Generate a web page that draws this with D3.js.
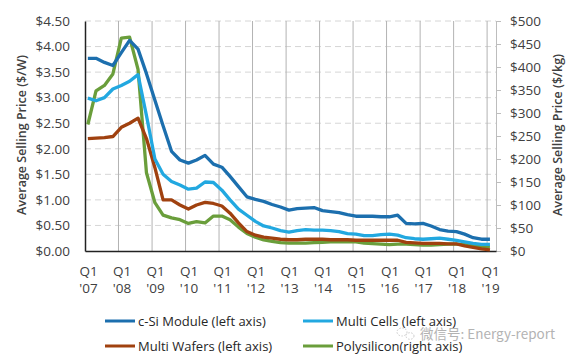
<!DOCTYPE html>
<html>
<head>
<meta charset="utf-8">
<script src="https://cdn.jsdelivr.net/npm/d3@7"></script>
<style>
  body { margin: 0; background: #fff; }
  svg { display: block; font-family: "Open Sans", "Noto Sans", sans-serif; }
</style>
</head>
<body>
<svg id="chart" width="577" height="362"></svg>
<script>
"use strict";

// quarterly points, Q1 '07 .. Q1 '19
var years = ["'07", "'08", "'09", "'10", "'11", "'12", "'13", "'14", "'15", "'16", "'17", "'18", "'19"];

var moduleVals = [3.77, 3.77, 3.69, 3.63, 3.88, 4.12, 3.95, 3.47, 2.95, 2.45, 1.95, 1.78, 1.72,
  1.78, 1.87, 1.70, 1.64, 1.46, 1.26, 1.06, 1.01, 0.97, 0.91, 0.86, 0.80, 0.83, 0.84, 0.85,
  0.79, 0.77, 0.75, 0.71, 0.68, 0.68, 0.68, 0.67, 0.67, 0.70, 0.54, 0.53, 0.54, 0.49, 0.42,
  0.39, 0.38, 0.33, 0.26, 0.23, 0.23];

var cellVals = [2.99, 2.94, 3.00, 3.17, 3.24, 3.32, 3.45, 2.65, 1.80, 1.50, 1.36, 1.29, 1.21,
  1.23, 1.35, 1.34, 1.19, 1.00, 0.82, 0.70, 0.58, 0.49, 0.45, 0.40, 0.37, 0.40, 0.42, 0.41,
  0.41, 0.40, 0.38, 0.34, 0.33, 0.30, 0.30, 0.32, 0.33, 0.31, 0.26, 0.24, 0.23, 0.24, 0.25,
  0.23, 0.21, 0.18, 0.15, 0.13, 0.13];

var waferVals = [2.20, 2.21, 2.22, 2.24, 2.42, 2.50, 2.60, 2.20, 1.63, 1.00, 1.00, 0.90, 0.82,
  0.90, 0.95, 0.93, 0.88, 0.74, 0.55, 0.38, 0.31, 0.27, 0.25, 0.23, 0.22, 0.22, 0.23, 0.23,
  0.23, 0.22, 0.22, 0.22, 0.21, 0.21, 0.21, 0.21, 0.21, 0.21, 0.17, 0.16, 0.15, 0.15, 0.15,
  0.14, 0.14, 0.10, 0.07, 0.04, 0.02];

// $/kg, right axis
var polyVals = [275, 348, 360, 385, 463, 465, 395, 170, 105, 78, 72, 68, 60,
  64, 61, 76, 76, 68, 52, 38, 30, 24, 21, 18, 17, 17, 17, 18,
  19, 20, 20, 20, 20, 17, 16, 15, 14, 15, 15, 14, 13, 13, 14,
  15, 15, 14, 12, 10, 9];

var leftTicks = [0, 0.5, 1, 1.5, 2, 2.5, 3, 3.5, 4, 4.5];
var rightTicks = [0, 50, 100, 150, 200, 250, 300, 350, 400, 450, 500];

var seriesNames = ["c-Si Module (left axis)", "Multi Cells (left axis)",
  "Multi Wafers (left axis)", "Polysilicon(right axis)"];
var seriesColors = ["#1c6fae", "#22a8e0", "#a0410f", "#6a9e3b"];

function drawChart() {
  // each point sits one month into its quarter
  var dates = moduleVals.map(function (v, i) {
    return new Date(2007 + Math.floor(i / 4), (i % 4) * 3 + 1, 1);
  });

  var svg = d3.select("#chart");
  var pLeft = 85, pRight = 496, pTop = 21, pBottom = 251;

  var x = d3.scaleTime()
    .domain([new Date(2007, 0, 1), new Date(2019, 3, 8)])
    .range([pLeft, pRight]);
  var yL = d3.scaleLinear().domain([0, 4.5]).range([pBottom, pTop]);
  var yR = d3.scaleLinear().domain([0, 500]).range([pBottom, pTop]);

  // horizontal dashed gridlines
  svg.append("g").selectAll("line")
    .data(leftTicks.slice(1))
    .enter().append("line")
    .attr("x1", pLeft).attr("x2", pRight)
    .attr("y1", function (d) { return yL(d); })
    .attr("y2", function (d) { return yL(d); })
    .style("stroke", "#d6d6d6")
    .style("stroke-width", 1)
    .style("stroke-dasharray", "6,4");

  // vertical gridlines at each Q1
  var yearDates = years.map(function (y, i) { return new Date(2007 + i, 0, 1); });
  svg.append("g").selectAll("line")
    .data(yearDates.slice(1))
    .enter().append("line")
    .attr("x1", function (d) { return x(d); })
    .attr("x2", function (d) { return x(d); })
    .attr("y1", pTop).attr("y2", pBottom)
    .style("stroke", "#b3b3b3")
    .style("stroke-width", 1);

  // left axis
  var leftAxis = svg.append("g")
    .attr("transform", "translate(" + pLeft + ",0)")
    .call(d3.axisLeft(yL).tickValues(leftTicks).tickSize(0).tickPadding(15)
      .tickFormat(function (d) { return "$" + d.toFixed(2); }));
  leftAxis.select(".domain").style("stroke", "#222").style("stroke-width", 1.5);
  leftAxis.selectAll("text").style("font-size", "13.5px").style("fill", "#404040")
    .style("font-family", "'Open Sans', sans-serif");

  // right axis
  var rightAxis = svg.append("g")
    .attr("transform", "translate(" + pRight + ",0)")
    .call(d3.axisRight(yR).tickValues(rightTicks).tickSize(5).tickSizeOuter(0).tickPadding(9)
      .tickFormat(function (d) { return "$" + d; }));
  rightAxis.select(".domain").style("stroke", "#bdbdbd");
  rightAxis.selectAll(".tick line").style("stroke", "#bdbdbd");
  rightAxis.selectAll("text").style("font-size", "13.5px").style("fill", "#404040")
    .style("font-family", "'Open Sans', sans-serif");

  // bottom axis
  var bottomAxis = svg.append("g")
    .attr("transform", "translate(0," + pBottom + ")")
    .call(d3.axisBottom(x).tickValues(yearDates).tickSize(0).tickFormat(""));
  bottomAxis.select(".domain").style("stroke", "#222").style("stroke-width", 1.5);
  bottomAxis.selectAll(".tick").each(function (d, i) {
    var t = d3.select(this).append("text")
      .attr("text-anchor", "middle")
      .style("font-size", "13.5px")
      .style("fill", "#404040")
      .style("font-family", "'Open Sans', sans-serif");
    t.append("tspan").attr("x", 3).attr("y", 25).text("Q1");
    t.append("tspan").attr("x", 3).attr("y", 42).text(years[i]);
  });

  // axis titles
  svg.append("text")
    .attr("transform", "translate(26,135) rotate(-90)")
    .attr("text-anchor", "middle")
    .style("font-size", "12.5px")
    .style("font-weight", 600)
    .style("fill", "#404040")
    .text("Average Selling Price ($/W)");
  svg.append("text")
    .attr("transform", "translate(562,135) rotate(-90)")
    .attr("text-anchor", "middle")
    .style("font-size", "12.5px")
    .style("font-weight", 600)
    .style("fill", "#404040")
    .text("Average Selling Price ($/kg)");

  // lines
  var lineL = d3.line()
    .x(function (d, i) { return x(dates[i]); })
    .y(function (d) { return yL(d); });
  var lineR = d3.line()
    .x(function (d, i) { return x(dates[i]); })
    .y(function (d) { return yR(d); });

  var drawOrder = [
    { vals: polyVals, line: lineR, color: seriesColors[3] },
    { vals: waferVals, line: lineL, color: seriesColors[2] },
    { vals: cellVals, line: lineL, color: seriesColors[1] },
    { vals: moduleVals, line: lineL, color: seriesColors[0] }
  ];
  drawOrder.forEach(function (s) {
    svg.append("path")
      .datum(s.vals)
      .attr("d", s.line)
      .style("fill", "none")
      .style("stroke", s.color)
      .style("stroke-width", 3.3)
      .style("stroke-linejoin", "round");
  });

  // legend
  var legendPos = [[105, 321], [303, 321], [105, 346], [303, 346]];
  var legend = svg.append("g");
  seriesNames.forEach(function (name, i) {
    var p = legendPos[i];
    legend.append("line")
      .attr("x1", p[0]).attr("x2", p[0] + 30)
      .attr("y1", p[1]).attr("y2", p[1])
      .style("stroke", seriesColors[i])
      .style("stroke-width", 3);
    legend.append("text")
      .attr("x", p[0] + 33)
      .attr("y", p[1] + 5)
      .style("font-size", "13px")
      .style("fill", "#262626")
      .text(name);
  });

  // watermark
  var wm = svg.append("g").style("opacity", 0.75);
  wm.append("ellipse").attr("cx", 402).attr("cy", 332).attr("rx", 5).attr("ry", 4)
    .style("fill", "none").style("stroke", "#bbb").style("stroke-dasharray", "1.5,1.5");
  wm.append("ellipse").attr("cx", 410).attr("cy", 336).attr("rx", 4).attr("ry", 3.3)
    .style("fill", "none").style("stroke", "#bbb").style("stroke-dasharray", "1.5,1.5");
  wm.append("text")
    .attr("x", 420)
    .attr("y", 339)
    .style("font-size", "13.5px")
    .style("fill", "#9a9a9a")
    .style("font-family", "'Noto Sans CJK SC', 'Open Sans', sans-serif")
    .text("微信号: Energy-report");
}

drawChart();
</script>
</body>
</html>
